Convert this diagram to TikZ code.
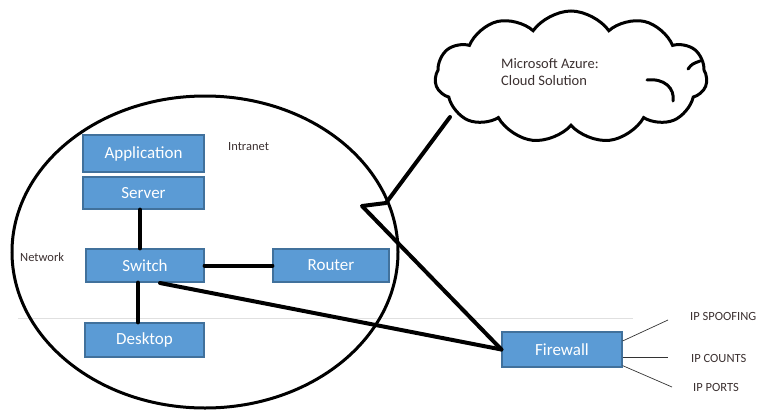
\documentclass[tikz,border=0pt]{standalone}
\usepackage{fontspec}
\setmainfont{Carlito}
\usetikzlibrary{shapes.geometric,shapes.symbols,calc}
\definecolor{boxfill}{HTML}{5B9BD5}
\definecolor{boxline}{HTML}{41719C}
\definecolor{txtdark}{HTML}{3B3030}
\begin{document}
\begin{tikzpicture}[x=1pt,y=-1pt,
  bluebox/.style={draw=boxline, line width=1.2pt, fill=boxfill, text=white, font=\fontsize{17}{19}\selectfont, inner sep=0pt},
  thickline/.style={line width=4pt, line cap=round},
  thinline/.style={line width=0.7pt, draw=black!80},
  smalllabel/.style={font=\fontsize{12.5}{14}\selectfont, text=txtdark, inner sep=0pt, anchor=west}]
\useasboundingbox (0,0) rectangle (760,410);
% faint horizontal line
\draw[black!12, line width=0.8pt] (18,318) -- (633,318);
% ellipse
\node[ellipse, draw, line width=3pt, minimum width=386pt, minimum height=312pt] (net) at (205,252) {};
% boxes
\node[bluebox, minimum width=121pt, minimum height=37pt] (app) at (143.5,153.5) {Application};
\node[bluebox, minimum width=121pt, minimum height=32pt] (server) at (143.5,193) {Server};
\node[bluebox, minimum width=118pt, minimum height=33pt] (switch) at (145,265.5) {Switch};
\node[bluebox, minimum width=116pt, minimum height=33pt] (router) at (331,265.5) {Router};
\node[bluebox, minimum width=119pt, minimum height=34pt] (desktop) at (144.5,340) {Desktop};
\node[bluebox, minimum width=120pt, minimum height=35pt] (firewall) at (562,349.5) {Firewall};
% labels
\node[smalllabel] (intranet) at (228,147) {Intranet};
\node[smalllabel] (network) at (20,257) {Network};
% cloud
\node[cloud, draw, line width=3pt, cloud puffs=11, cloud puff arc=110, aspect=2.1, minimum width=272pt, minimum height=132pt, inner sep=0pt] (cloud) at (571,77) {};
\node[anchor=north west, inner sep=0pt, align=left, text=txtdark, font=\fontsize{14.5}{17}\selectfont] (cloudtxt) at (501,58) {Microsoft Azure:\\Cloud Solution};
% inner arcs of cloud
\draw[line width=3pt, line cap=round] (647,80) .. controls (664,78) and (675,88) .. (673,101);
\draw[line width=3pt, line cap=round] (688,69) .. controls (692,64) .. (700,61);
% connectors
\coordinate (c1) at (450,117);
\coordinate (k1) at (386,203);
\coordinate (k2) at (362,206);
\coordinate (sw1) at (160,283);
\draw[thickline, line join=round] (c1) -- (k1) -- (k2) -- (firewall.west);
\draw[thickline] (sw1) -- (firewall.west);
\draw[thickline] ($(server.south)+(-3.5,0)$) -- ($(switch.north)+(-5,0)$);
\draw[thickline] ($(switch.south)+(-7,0)$) -- ($(desktop.north)+(-6.5,0)$);
\draw[thickline] (switch.east) -- (router.west);
% firewall outputs
\coordinate (f1) at (668,320);
\coordinate (f2) at (668,357);
\coordinate (f3) at (672,387);
\draw[thinline] ($(firewall.east)+(0,-8.5)$) -- (f1);
\draw[thinline] ($(firewall.east)+(0,7.5)$) -- (f2);
\draw[thinline] ($(firewall.south east)+(0,-2)$) -- (f3);
\node[smalllabel] (ip1) at (690,316) {IP SPOOFING};
\node[smalllabel] (ip2) at (691,358) {IP COUNTS};
\node[smalllabel] (ip3) at (693,387) {IP PORTS};
\end{tikzpicture}
\end{document}
